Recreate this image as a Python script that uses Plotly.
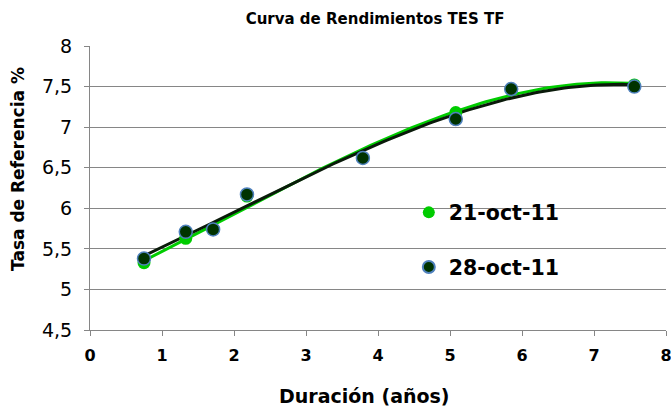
import numpy as np
import plotly.graph_objects as go

duracion = [0.75, 1.33, 1.71, 2.18, 3.79, 5.08, 5.85, 7.56]
tasa_21 = [5.33, 5.63, 5.74, 6.15, 6.62, 7.18, 7.47, 7.52]
tasa_28 = [5.38, 5.71, 5.74, 6.17, 6.62, 7.10, 7.47, 7.50]
series_names = ["21-oct-11", "28-oct-11"]

FONT = "Verdana, DejaVu Sans, sans-serif"

fig = go.Figure()

def trend(x, y):
    c = np.polyfit(x, y, 3)
    xs = np.linspace(min(x), max(x), 120)
    return xs, np.polyval(c, xs)

xs, ys = trend(duracion, tasa_21)
fig.add_trace(go.Scatter(x=xs, y=ys, mode="lines", line=dict(color="#00CC00", width=3),
                         showlegend=False, hoverinfo="skip"))
xs, ys = trend(duracion, tasa_28)
fig.add_trace(go.Scatter(x=xs, y=ys, mode="lines", line=dict(color="#0A1A0A", width=3),
                         showlegend=False, hoverinfo="skip"))

fig.add_trace(go.Scatter(x=duracion, y=tasa_21, mode="markers",
                         name="<b>" + series_names[0] + "</b>", legendgroup="a",
                         marker=dict(color="#00CC00", size=13, line=dict(width=0))))
fig.add_trace(go.Scatter(x=duracion, y=tasa_28, mode="markers",
                         name="<b>" + series_names[1] + "</b>", legendgroup="b",
                         marker=dict(color="#003300", size=13, line=dict(color="#4F81BD", width=1.5))))

fig.update_layout(
    width=671, height=410,
    margin=dict(l=90, r=5, t=46, b=80, autoexpand=False),
    paper_bgcolor="white", plot_bgcolor="white",
    separators=",.",
    font=dict(family=FONT, color="black"),
    title=dict(text="<b>Curva de Rendimientos TES TF</b>", x=0.559, xanchor="center",
               xref="container", y=0.955, yanchor="middle", font=dict(size=15),
               automargin=False),
    xaxis=dict(range=[0, 8], dtick=1, showgrid=False, showline=True, linecolor="#868686",
               linewidth=1, ticks="outside", ticklen=5, tickcolor="#868686",
               tickfont=dict(size=16, family=FONT), tickprefix="<b>", ticksuffix="</b>",
               zeroline=False, automargin=False, ticklabelstandoff=6,
               ticklabeloverflow="allow"),
    yaxis=dict(range=[4.5, 8], dtick=0.5, showgrid=True, gridcolor="#868686", gridwidth=1,
               showline=True, linecolor="#868686", linewidth=1, ticks="outside", ticklen=5,
               tickcolor="#868686", tickfont=dict(size=19), zeroline=False, automargin=False,
               ticklabelstandoff=8),
    annotations=[
        dict(text="<b>Tasa de Referencia %</b>", textangle=-90,
             xref="paper", yref="paper", x=-0.125, y=0.567,
             xanchor="center", yanchor="middle", showarrow=False,
             font=dict(size=17)),
        dict(text="<b>Duración (años)</b>",
             xref="paper", yref="paper", x=0.476, y=-0.232,
             xanchor="center", yanchor="middle", showarrow=False,
             font=dict(size=19)),
    ],
    legend=dict(x=0.5535, y=0.484, xanchor="left", yanchor="top", bgcolor="rgba(0,0,0,0)",
                font=dict(size=20.5), traceorder="grouped", tracegroupgap=25,
                itemsizing="constant"),
)

fig.write_html("out.html", config={"displayModeBar": False},
               post_script="document.body.style.margin='0';")
